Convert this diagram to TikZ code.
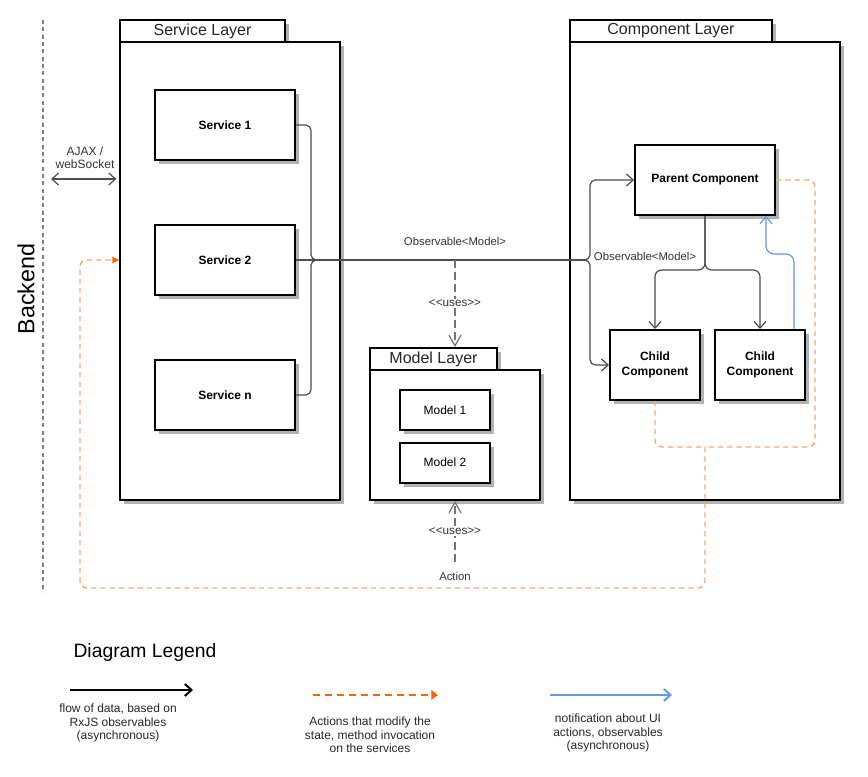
\documentclass[tikz,border=0pt]{standalone}
\usepackage{fontspec}
\setmainfont{Liberation Sans}
\usetikzlibrary{arrows.meta,shadows}
\definecolor{ActOrange}{RGB}{255,166,115}
\definecolor{ActDark}{RGB}{255,102,0}
\definecolor{NoteBlue}{RGB}{102,150,238}
\colorlet{FlowGray}{black!70}
\newcommand{\usesTxt}{<\kern0pt<uses>\kern0pt>}

\begin{document}
\begin{tikzpicture}[x=0.75pt,y=-0.75pt,
    box/.style={draw,fill=white,line width=1.5pt,inner sep=0pt,align=center,
        drop shadow={shadow xshift=3.2pt,shadow yshift=-3.2pt,fill=black!30,opacity=1}},
    tab/.style={box,font=\fontsize{12}{14}\selectfont,text=black!85,minimum height=16.5pt},
    svcbox/.style={box,minimum width=105pt,minimum height=52.5pt,font=\bfseries\fontsize{9}{11}\selectfont},
    childbox/.style={box,minimum width=67.5pt,minimum height=52.5pt,font=\bfseries\fontsize{9}{11}\selectfont},
    modelbox/.style={box,minimum width=67.5pt,minimum height=30pt,font=\fontsize{9}{11}\selectfont},
    lbl/.style={inner sep=1pt,font=\fontsize{8.5}{10}\selectfont,text=black!80},
    usestxt/.style={lbl,fill=white,font=\fontsize{8.8}{10}\selectfont},
    legtxt/.style={align=center,font=\fontsize{9}{10.2}\selectfont,text=black!85},
    flow/.style={draw=FlowGray,line width=0.9pt},
    tip/.style={-{Straight Barb[length=5pt,width=9pt]}},
    uses/.style={draw=black!55,line width=0.9pt,dash pattern=on 6pt off 3pt,
        -{Straight Barb[length=8pt,width=9pt]}},
    action/.style={draw=ActOrange,line width=1.1pt,dash pattern=on 4pt off 3pt},
    notify/.style={draw=NoteBlue,line width=0.9pt}]
    \useasboundingbox (0,0) rectangle (868,777);

%    backend
    \draw[black!50,line width=1.5pt,dash pattern=on 3pt off 2.5pt] (43,20) -- (43,592);
    \node[rotate=90,font=\fontsize{17.5}{20}\selectfont] (backend) at (26,289) {Backend};

%    layers
    \node[tab,minimum width=123.75pt] (svcTab) at (202.5,31) {Service Layer};
    \node[box,minimum width=165pt,minimum height=343.5pt] (svcLayer) at (230,271) {};
    \node[svcbox] (svc1) at (225,125) {Service 1};
    \node[svcbox] (svc2) at (225,260) {Service 2};
    \node[svcbox] (svcN) at (225,395) {Service n};

    \node[tab,minimum width=95.25pt] (modTab) at (433.5,359) {Model Layer};
    \node[box,minimum width=127.5pt,minimum height=97.5pt] (modLayer) at (455,435) {};
    \node[modelbox] (mod1) at (445,410) {Model 1};
    \node[modelbox] (mod2) at (445,462.5) {Model 2};

    \node[tab,minimum width=151.5pt] (cmpTab) at (671,31) {Component Layer};
    \node[box,minimum width=202.5pt,minimum height=343.5pt] (cmpLayer) at (705,271) {};
    \node[svcbox] (parent) at (705,180) {Parent Component};
    \node[childbox] (child1) at (655,365) {Child\\Component};
    \node[childbox] (child2) at (760,365) {Child\\Component};

%    ajax
    \coordinate (ajaxL) at (51,179);
    \draw[flow,{Straight Barb[length=5pt,width=9pt]}-{Straight Barb[length=5pt,width=9pt]}]
        (ajaxL) -- ([xshift=-2pt]ajaxL -| svcLayer.west);
    \node[lbl,align=center,font=\fontsize{9}{10}\selectfont] (ajax) at (85,158) {AJAX /\\webSocket};

%    observables
    \coordinate (busL) at (317,260);
    \coordinate (busR) at (585,260);
    \draw[flow,rounded corners=4pt] (svc1.east) -- ++(15,0) |- (busL);
    \draw[flow,rounded corners=4pt] (svcN.east) -- ++(15,0) |- (busL);
    \draw[flow] (svc2.east) -- (busR);
    \draw[flow,tip,rounded corners=4pt] (busR) -- ++(5,0) |- (parent.west);
    \draw[flow,tip,rounded corners=4pt] (busR) -- ++(5,0) |- (child1.west);
    \node[lbl] (obs1) at (455,241) {Observable<Model>};
    \node[lbl] (obs2) at (645,256) {Observable<Model>};

    \coordinate (split) at (705,270);
    \draw[flow,tip,rounded corners=5pt] (parent.south) -- (split) -| (child1.north);
    \draw[flow,tip,rounded corners=5pt] (parent.south) -- (split) -| (child2.north);

%    uses
    \draw[uses] (busL -| modLayer.north) -- node[usestxt] {\usesTxt}
        (modLayer.north |- modTab.north);
    \node[lbl] (action) at (455,576) {Action};
    \draw[uses] ([yshift=6pt]action.north) -- node[usestxt,pos=0.5] {\usesTxt}
        (modLayer.south);

%    notification
    \draw[notify,tip,rounded corners=6pt] ([xshift=-9pt]child2.north east) -- ++(0,-75)
        -| ([xshift=-7.5pt]parent.south east);

%    actions
    \coordinate (actJ) at (705,447);
    \coordinate (actB) at (80,588);
    \draw[action,rounded corners=5pt] (parent.east) -| (815,447) -- (actJ);
    \draw[action,rounded corners=5pt] (child1.south) |- (actJ);
    \draw[action,rounded corners=5pt,-{Triangle[length=5pt,width=5pt,color=ActDark]}]
        (actJ) |- (actB) |- (svcLayer.west |- svc2.west);

%    legend
    \node[font=\fontsize{14.5}{16}\selectfont] (legTitle) at (145,652) {Diagram Legend};
    \coordinate (legFlowA) at (70,690);
    \coordinate (legFlowB) at (193,690);
    \draw[black,line width=1.5pt,-{Straight Barb[length=5pt,width=9pt]}] (legFlowA) -- (legFlowB);
    \node[legtxt] (legFlow) at (118,723) {flow of data, based on\\RxJS observables\\(asynchronous)};

    \coordinate (legActA) at (313,695);
    \coordinate (legActB) at (438,695);
    \draw[ActDark,line width=1.5pt,dash pattern=on 5pt off 4pt,-{Triangle[length=5pt,width=7pt]}] (legActA) -- (legActB);
    \node[legtxt] (legAct) at (370,735) {Actions that modify the\\state, method invocation\\on the services};

    \coordinate (legNoteA) at (550,695);
    \coordinate (legNoteB) at (672,695);
    \draw[NoteBlue,line width=1.5pt,-{Straight Barb[length=5pt,width=9pt]}] (legNoteA) -- (legNoteB);
    \node[legtxt] (legNote) at (608,733) {notification about UI\\actions, observables\\(asynchronous)};

\end{tikzpicture}
\end{document}
